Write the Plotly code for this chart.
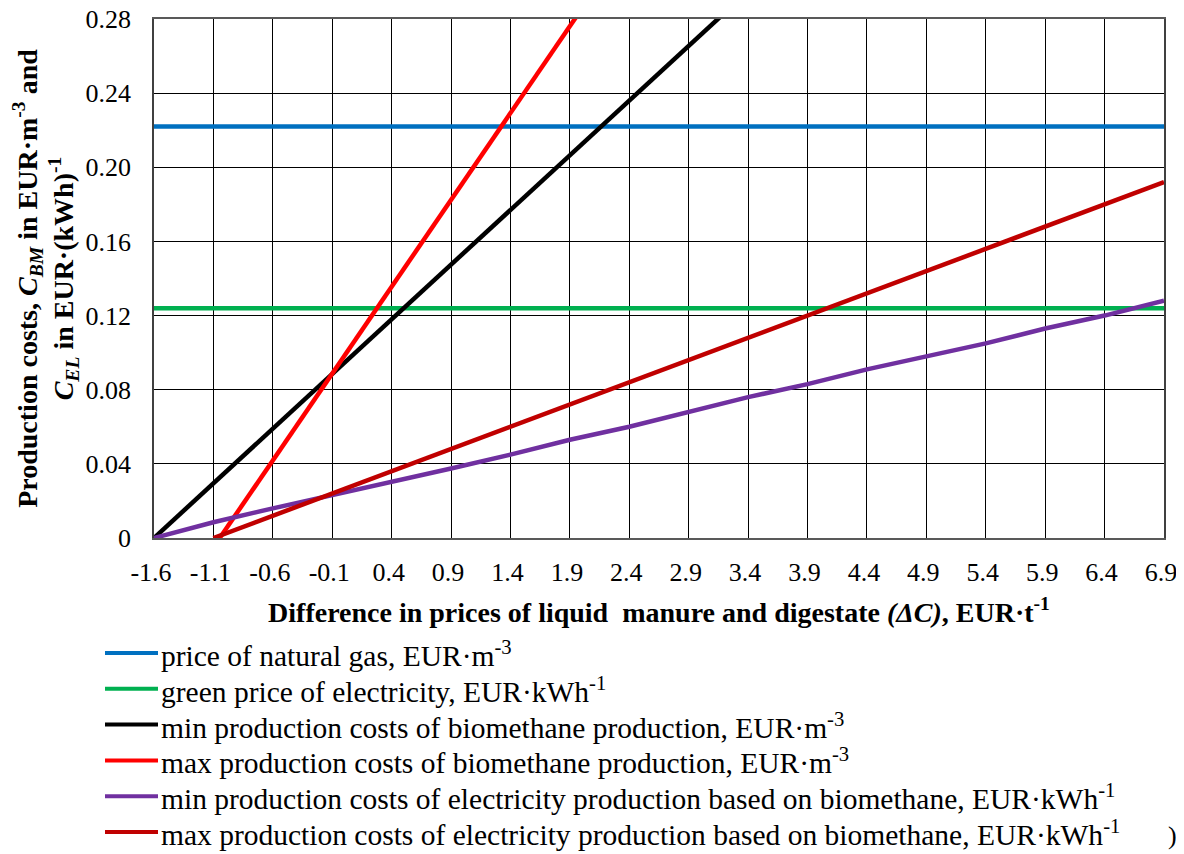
import plotly.graph_objects as go

# ---- data ----
x_vals = [-1.6, -1.1, -0.6, -0.1, 0.4, 0.9, 1.4, 1.9, 2.4, 2.9, 3.4, 3.9, 4.4, 4.9, 5.4, 5.9, 6.4, 6.9]
x_ticktext = ["-1.6", "-1.1", "-0.6", "-0.1", "0.4", "0.9", "1.4", "1.9", "2.4", "2.9",
              "3.4", "3.9", "4.4", "4.9", "5.4", "5.9", "6.4", "6.9"]
y_tickvals = [0, 0.04, 0.08, 0.12, 0.16, 0.20, 0.24, 0.28]
y_ticktext = ["0", "0.04", "0.08", "0.12", "0.16", "0.20", "0.24", "0.28"]

natural_gas_price = [0.222, 0.222, 0.222, 0.222, 0.222, 0.222, 0.222, 0.222, 0.222,
                     0.222, 0.222, 0.222, 0.222, 0.222, 0.222, 0.222, 0.222, 0.222]
green_el_price = [0.124, 0.124, 0.124, 0.124, 0.124, 0.124, 0.124, 0.124, 0.124,
                  0.124, 0.124, 0.124, 0.124, 0.124, 0.124, 0.124, 0.124, 0.124]
bm_min_cost = [0.0, 0.0295, 0.059, 0.0885, 0.118, 0.1475, 0.177, 0.2065, 0.236,
               0.2655, 0.295, None, None, None, None, None, None, None]
bm_max_cost = [None, -0.005, 0.042, 0.089, 0.136, 0.182, 0.229, 0.276, 0.323,
               None, None, None, None, None, None, None, None, None]
el_min_cost = [0.0, 0.0085, 0.016, 0.023, 0.030, 0.0375, 0.045, 0.053, 0.060,
               0.068, 0.076, 0.083, 0.091, 0.098, 0.105, 0.113, 0.120, 0.128]
el_max_cost = [None, 0.0, 0.012, 0.024, 0.036, 0.048, 0.060, 0.072, 0.084,
               0.096, 0.108, 0.120, 0.132, 0.144, 0.156, 0.168, 0.180, 0.192]

series_names = [
    "price of natural gas, EUR·m<sup>-3</sup>",
    "green price of electricity, EUR·kWh<sup>-1</sup>",
    "min production costs of biomethane production, EUR·m<sup>-3</sup>",
    "max production costs of biomethane production, EUR·m<sup>-3</sup>",
    "min production costs of electricity production based on biomethane, EUR·kWh<sup>-1</sup>",
    "max production costs of electricity production based on biomethane, EUR·kWh<sup>-1</sup>",
]
series_colors = ["#0070C0", "#00B050", "#000000", "#FF0000", "#7030A0", "#C00000"]
series_values = [natural_gas_price, green_el_price, bm_min_cost, bm_max_cost,
                 el_min_cost, el_max_cost]

FONT = "Liberation Serif"

# plot-area geometry on the page (px) used to place the hand-drawn legend
PLOT_L, PLOT_R, PLOT_T, PLOT_B = 154, 1164, 19, 538
PW, PH = PLOT_R - PLOT_L, PLOT_B - PLOT_T


def px_to_paper_x(px):
    return (px - PLOT_L) / PW


def px_to_paper_y(py):
    return (PLOT_B - py) / PH


fig = go.Figure()
for name, color, vals in zip(series_names, series_colors, series_values):
    fig.add_trace(go.Scatter(
        x=x_vals, y=vals, mode="lines", name=name,
        line=dict(color=color, width=4.5),
        connectgaps=False, showlegend=False,
    ))

# legend drawn as shapes + annotations (Plotly's legend row spacing is too loose)
legend_shapes = []
legend_annots = []
for i, (name, color) in enumerate(zip(series_names, series_colors)):
    row_y = 653 + 35.8 * i
    legend_shapes.append(dict(
        type="line", xref="paper", yref="paper",
        x0=px_to_paper_x(105), x1=px_to_paper_x(158),
        y0=px_to_paper_y(row_y), y1=px_to_paper_y(row_y),
        line=dict(color=color, width=4),
    ))
    legend_annots.append(dict(
        text=name, xref="paper", yref="paper",
        x=px_to_paper_x(159), y=px_to_paper_y(row_y + 1),
        xanchor="left", yanchor="middle", showarrow=False,
        font=dict(family=FONT, size=29.5, color="black"),
    ))

legend_annots.append(dict(
    text=")", x=px_to_paper_x(1166), y=px_to_paper_y(835), xref="paper", yref="paper",
    showarrow=False, font=dict(family=FONT, size=26, color="black"),
    xanchor="left", yanchor="middle",
))

fig.update_layout(
    width=1176, height=846,
    margin=dict(l=146, r=20, t=11, b=316, autoexpand=False),
    paper_bgcolor="white", plot_bgcolor="white",
    font=dict(family=FONT, size=26, color="black"),
    showlegend=False,
    xaxis=dict(
        range=[-1.6, 6.9], tickmode="array", tickvals=x_vals, ticktext=x_ticktext,
        showgrid=True, gridcolor="#000000", gridwidth=1,
        showline=True, linecolor="#595959", linewidth=2, mirror=True,
        ticks="", ticklabelstandoff=10, ticklabelshift=-3, zeroline=False,
        ticklabeloverflow="allow",
        tickfont=dict(family=FONT, size=26, color="black"),
        title=dict(
            text="<b>Difference in prices of liquid  manure and digestate <i>(ΔC)</i>, EUR·t<sup>-1</sup></b>",
            font=dict(family=FONT, size=28, color="black"), standoff=16,
        ),
    ),
    yaxis=dict(
        range=[0, 0.28], tickmode="array", tickvals=y_tickvals, ticktext=y_ticktext,
        showgrid=True, gridcolor="#000000", gridwidth=1,
        showline=True, linecolor="#404040", linewidth=1.5, mirror=True,
        ticks="", ticklabelstandoff=16, zeroline=False, ticklabeloverflow="allow",
        tickfont=dict(family=FONT, size=26, color="black"),
        title=dict(
            text="<b>Production costs, <i>C<sub>BM</sub></i> in EUR·m<sup>-3</sup> and<br><i>C<sub>EL</sub></i> in EUR·(kWh)<sup>-1</sup></b>",
            font=dict(family=FONT, size=28, color="black"), standoff=7,
        ),
    ),
    shapes=legend_shapes,
    annotations=legend_annots,
)

fig.write_html("out.html")
